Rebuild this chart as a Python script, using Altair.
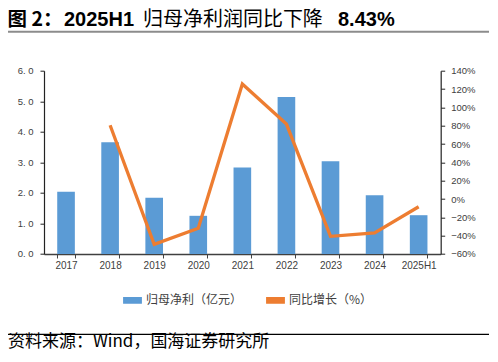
import altair as alt
import pandas as pd

# ---- data ----
years = ["2017", "2018", "2019", "2020", "2021", "2022", "2023", "2024", "2025H1"]
profit = [2.04, 3.66, 1.84, 1.25, 2.83, 5.14, 3.04, 1.92, 1.27]
growth = [None, 80.5, -49.5, -32.0, 125.5, 81.8, -40.7, -37.0, -8.43]
series_names = ["归母净利（亿元）", "同比增长（%）"]
series_colors = ["#5B9BD5", "#ED7D31"]
left_ticks = [0, 1, 2, 3, 4, 5, 6]
right_ticks = [-60, -40, -20, 0, 20, 40, 60, 80, 100, 120, 140]

title_a = "图 2："
title_b = "2025H1"
title_c = "归母净利润同比下降"
title_d = "8.43%"
source_text = "资料来源：Wind，国海证券研究所"

df = pd.DataFrame({"year": years, "profit": profit, "growth": growth})

W, H = 396.7, 183.3
LAT = "Liberation Sans"
CJK = "Noto Sans CJK SC"
AX = "#404040"

color_scale = alt.Scale(domain=series_names, range=series_colors)
legend = alt.Legend(
    title=None, orient="none", legendX=79, legendY=220, direction="horizontal",
    symbolType="M-1,-0.3L1,-0.3L1,0.3L-1,0.3Z", symbolSize=300, symbolStrokeWidth=1.5,
    labelFont=CJK, labelFontSize=12, labelColor=AX, columnPadding=20, labelOffset=4,
)

x_enc = alt.X(
    "year:N", sort=years,
    scale=alt.Scale(paddingInner=0.6, paddingOuter=0.3),
    axis=alt.Axis(
        title=None, labelAngle=0, labelFont=LAT, labelFontSize=10, labelColor=AX,
        domainColor=AX, domainWidth=1.5, tickBand="extent", tickColor=AX, tickSize=4,
        labelPadding=3,
    ),
)

bars = alt.Chart(df).transform_calculate(
    series="'" + series_names[0] + "'"
).mark_bar().encode(
    x=x_enc,
    y=alt.Y(
        "profit:Q", scale=alt.Scale(domain=[0, 6], nice=False),
        axis=alt.Axis(
            title=None, values=left_ticks,
            labelExpr="replace(format(datum.value, '.1f'), '.', '. ')",
            labelFont=LAT, labelFontSize=9.5,
            labelColor=AX, domainColor="#222222", domainWidth=1.2, tickColor="#222222",
            tickSize=4, labelPadding=7, grid=False,
        ),
    ),
    color=alt.Color("series:N", scale=color_scale, legend=legend),
)

line = alt.Chart(df).transform_calculate(
    series="'" + series_names[1] + "'"
).mark_line(strokeWidth=3.3).encode(
    x=x_enc,
    y=alt.Y(
        "growth:Q", scale=alt.Scale(domain=[-60, 140], nice=False),
        axis=alt.Axis(
            title=None, orient="right", values=right_ticks,
            labelExpr="format(datum.value, 'd') + '%'", labelFont=LAT, labelFontSize=9.5,
            labelColor=AX, domainColor="#222222", domainWidth=1.2, tickColor="#222222",
            tickSize=4, labelPadding=6, grid=False,
        ),
    ),
    color=alt.Color("series:N", scale=color_scale, legend=legend),
)


def text_layer(txt, x, y, size, weight, font, color="#000000"):
    return alt.Chart(pd.DataFrame({"t": [txt]})).mark_text(
        align="left", baseline="alphabetic", fontSize=size, fontWeight=weight,
        font=font, color=color,
    ).encode(x=alt.value(x), y=alt.value(y), text="t:N")


def hrule(x1, x2, y, color, width):
    return alt.Chart(pd.DataFrame({"a": [0]})).mark_rule(color=color, strokeWidth=width).encode(
        x=alt.value(x1), x2=alt.value(x2), y=alt.value(y)
    )


TY = -44.7
t1 = text_layer(title_a, -36.5, TY, 19.5, "bold", CJK)
t2 = text_layer(title_b, 20, TY, 20, "bold", LAT)
t3 = text_layer(title_c, 99, TY, 20, "normal", CJK)
t4 = text_layer(title_d, 294, TY, 20, "bold", LAT)
under = hrule(-39, 449, -39, "#8c8c8c", 2)
foot = hrule(-36, 449, 263.6, "#000000", 1.2)
src = text_layer(source_text, -36, 276.5, 17, "normal", CJK)

chart = alt.layer(bars, line, t1, t2, t3, t4, under, foot, src).resolve_scale(
    y="independent"
).properties(
    width=W, height=H,
    autosize=alt.AutoSizeParams(type="none"),
    padding={"left": 36, "top": 62.7, "right": 48, "bottom": 98},
).configure_view(stroke=None)

chart.save("out.html", embed_options={"renderer": "svg", "actions": False})
